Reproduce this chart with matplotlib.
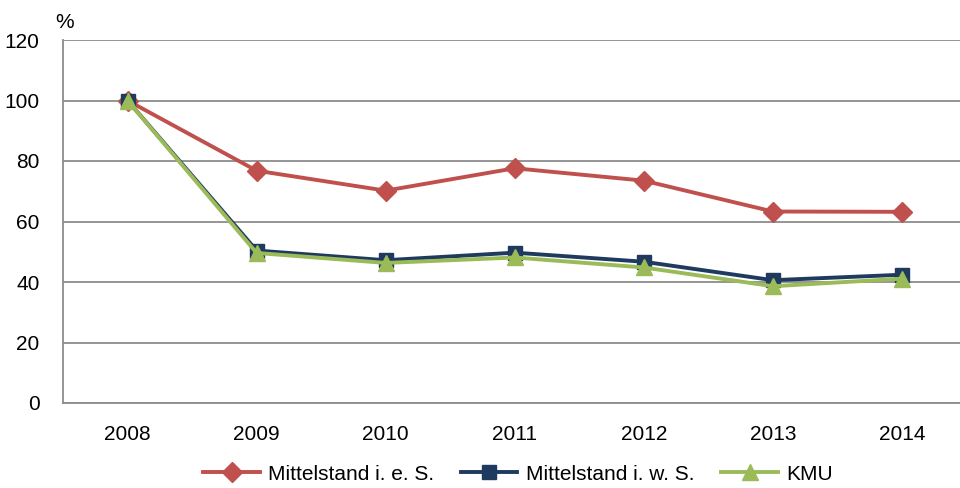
import matplotlib
matplotlib.use("Agg")
import matplotlib.pyplot as plt

plt.rcParams['font.family'] = ['Liberation Sans', 'DejaVu Sans']

years = ["2008", "2009", "2010", "2011", "2012", "2013", "2014"]
mittelstand_ies = [100, 76.8, 70.2, 77.6, 73.5, 63.3, 63.2]
mittelstand_iws = [100, 50.4, 47.2, 49.7, 46.7, 40.6, 42.4]
kmu = [100, 49.6, 46.3, 48.1, 44.8, 38.6, 41.1]
y_ticks = [0, 20, 40, 60, 80, 100, 120]

fig = plt.figure(figsize=(9.6, 4.88), dpi=100)
ax = fig.add_axes([63 / 960, 1 - 403 / 488, (960 - 63) / 960, (403 - 40) / 488])

x = list(range(len(years)))
ax.plot(x, mittelstand_ies, color="#C0504D", lw=2.8, marker="D", ms=10,
        label="Mittelstand i. e. S.", zorder=3)
ax.plot(x, mittelstand_iws, color="#1F3A5F", lw=2.8, marker="s", ms=10,
        label="Mittelstand i. w. S.", zorder=4)
ax.plot(x, kmu, color="#9BBB59", lw=2.8, marker="^", ms=11,
        label="KMU", zorder=5)

ax.set_xlim(-0.5, 6.45)
ax.set_ylim(0, 120)
ax.set_yticks(y_ticks)
ax.set_xticks(x)
ax.set_xticklabels(years)
ax.tick_params(axis="both", length=0, labelsize=15, colors="black")
ax.tick_params(axis="x", pad=16)
ax.tick_params(axis="y", pad=17)
ax.grid(axis="y", color="#8C8C8C", lw=1.3)
ax.set_axisbelow(True)
for side in ("top", "right"):
    ax.spines[side].set_visible(False)
for side in ("left", "bottom"):
    ax.spines[side].set_color("#8C8C8C")
    ax.spines[side].set_linewidth(1.3)

fig.text(65 / 960, 1 - 23 / 488, "%", fontsize=15, ha="center", va="center")

fig.legend(loc="center", bbox_to_anchor=(518 / 960, 1 - 474 / 488), ncol=3,
           frameon=False, fontsize=15, handlelength=2.7, columnspacing=1.3,
           handletextpad=0.4)

fig.savefig("out.png", dpi=100)
